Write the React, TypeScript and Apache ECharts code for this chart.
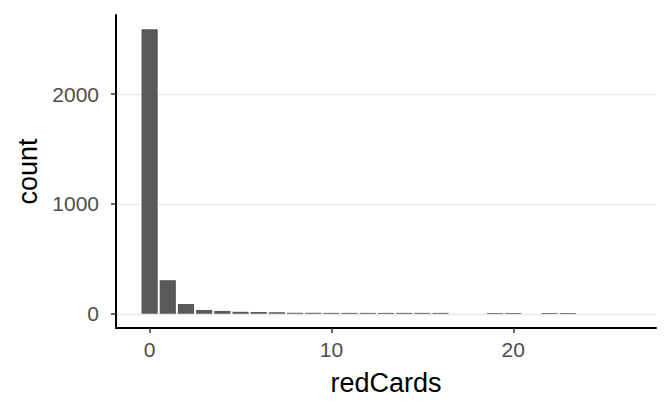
import React, { useEffect, useRef } from "react";
import * as echarts from "echarts";

const redCards = [0, 1, 2, 3, 4, 5, 6, 7, 8, 9, 10, 11, 12, 13, 14, 15, 16, 17, 18, 19, 20, 21, 22, 23, 24, 25, 26];
const counts = [2590, 306, 90, 35, 26, 18, 17, 14, 9, 9, 8, 8, 8, 8, 8, 8, 8, 0, 0, 7, 7, 0, 7, 7, 0, 0, 0];
const xTicks = [0, 10, 20];
const yTicks = [0, 1000, 2000];
const xTitle = "redCards";
const yTitle = "count";

export default function App() {
  const ref = useRef<HTMLDivElement>(null);
  useEffect(() => {
    if (!ref.current) return;
    const chart = echarts.init(ref.current, null, { renderer: "svg" });
    const xMinData = Math.min(...redCards) - 0.5;
    const xMaxData = Math.max(...redCards) + 0.5;
    const xPad = (xMaxData - xMinData) * 0.05;
    const yMaxData = Math.max(...counts);
    const yPad = yMaxData * 0.05;
    const font = "Liberation Sans, Arial, sans-serif";
    chart.setOption({
      animation: false,
      grid: { left: 116, top: 15, width: 540, height: 313, containLabel: false },
      xAxis: {
        type: "value",
        min: xMinData - xPad,
        max: xMaxData + xPad,
        name: xTitle,
        nameLocation: "middle",
        nameGap: 41,
        nameTextStyle: { color: "#000", fontSize: 27, fontFamily: font },
        axisLine: { show: true, onZero: false, lineStyle: { color: "#000", width: 2 } },
        axisTick: { show: true, length: 5, customValues: xTicks, lineStyle: { color: "#333", width: 1.5 } },
        axisLabel: { customValues: xTicks, color: "#4d4d4d", fontSize: 21, fontFamily: font, margin: 11, formatter: (v: number) => String(v) },
        splitLine: { show: false },
      },
      yAxis: {
        type: "value",
        min: -yPad,
        max: yMaxData + yPad,
        name: yTitle,
        nameLocation: "middle",
        nameRotate: 90,
        nameGap: 71,
        nameTextStyle: { color: "#000", fontSize: 27, fontFamily: font },
        axisLine: { show: true, onZero: false, lineStyle: { color: "#000", width: 2 } },
        axisTick: { show: true, length: 5, customValues: yTicks, lineStyle: { color: "#333", width: 1.5 } },
        axisLabel: { customValues: yTicks, color: "#4d4d4d", fontSize: 21, fontFamily: font, margin: 17, formatter: (v: number) => String(v) },
        splitLine: { show: true, lineStyle: { color: "#ebebeb", width: 1.4 } },
      },
      series: [
        {
          type: "custom",
          data: redCards.map((x, i) => [x, counts[i]]),
          renderItem: (params: any, api: any) => {
            const x = api.value(0);
            const y = api.value(1);
            if (!y) return null;
            const p1 = api.coord([x - 0.5, y]);
            const p2 = api.coord([x + 0.5, 0]);
            return {
              type: "rect",
              shape: { x: p1[0] + 1, y: p1[1], width: p2[0] - p1[0] - 2, height: p2[1] - p1[1] },
              style: { fill: "#595959" },
            };
          },
        },
      ],
    });
    return () => chart.dispose();
  }, []);
  return <div ref={ref} style={{ width: 672, height: 415, marginLeft: -8, marginTop: -8 }} />;
}
